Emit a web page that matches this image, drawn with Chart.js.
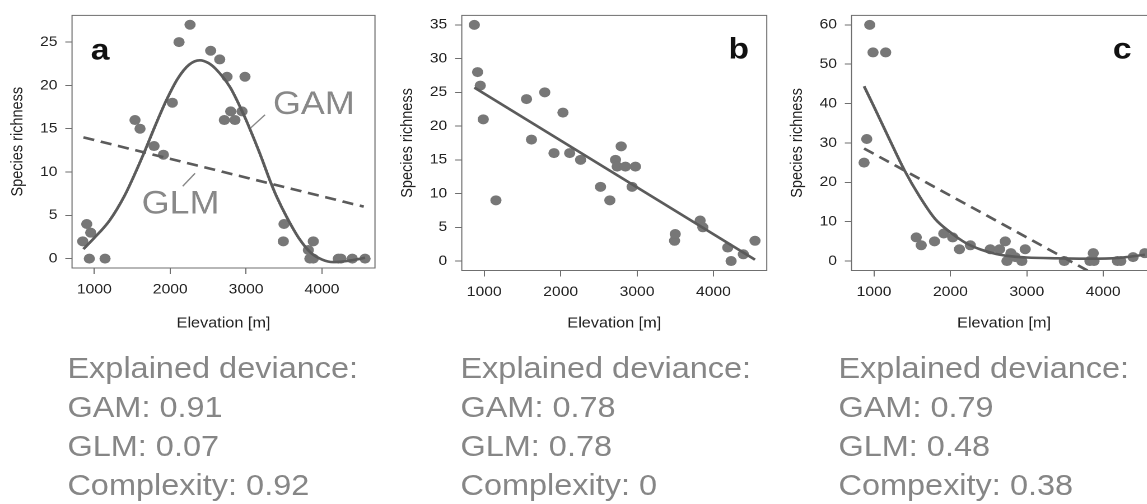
<!DOCTYPE html>
<html>
<head>
<meta charset="utf-8">
<script src="https://cdn.jsdelivr.net/npm/chart.js@4.4.1/dist/chart.umd.min.js"></script>
<style>
html,body{margin:0;padding:0;background:#fff;overflow:hidden;width:1147px;height:504px;}
#stage{position:absolute;left:0;top:0;width:1024px;height:504px;transform:scaleX(1.12);transform-origin:0 0;}
canvas.panel{position:absolute;top:0;}
.stats{position:absolute;top:348.5px;font-family:"Liberation Sans",Arial,Helvetica,sans-serif;font-size:29px;line-height:39px;color:#868686;white-space:nowrap;}
</style>
</head>
<body>
<div id="stage">
  <canvas id="ca" class="panel" width="345" height="340" style="left:0px"></canvas>
  <canvas id="cb" class="panel" width="347" height="340" style="left:348.2px"></canvas>
  <canvas id="cc" class="panel" width="347" height="340" style="left:696.4px"></canvas>
  <div class="stats" id="sa" style="left:60.2px"></div>
  <div class="stats" id="sb" style="left:411.1px"></div>
  <div class="stats" id="sc" style="left:748.6px"></div>
</div>
<script>
// ---------- data ----------
const xTicks = [1000, 2000, 3000, 4000];
const yTicksA = [0, 5, 10, 15, 20, 25];
const yTicksB = [0, 5, 10, 15, 20, 25, 30, 35];
const yTicksC = [0, 10, 20, 30, 40, 50, 60];

// panel a
const elevA = [847, 900, 952, 934, 1141, 1536, 1602, 1787, 1910, 2028, 2116, 2261, 2533, 2652, 2748, 2713, 2797, 2853, 2946, 2985, 3499, 3490, 3885, 3820, 3840, 3885, 4215, 4250, 4399, 4567];
const richA = [2, 4, 3, 0, 0, 16, 15, 13, 12, 18, 25, 27, 24, 23, 21, 16, 17, 16, 17, 21, 4, 2, 2, 1, 0, 0, 0, 0, 0, 0];
const gamElevA = [856, 1000, 1200, 1400, 1550, 1664, 1800, 1950, 2100, 2250, 2391, 2500, 2600, 2788, 2900, 3000, 3100, 3200, 3315, 3400, 3535, 3700, 3850, 4000, 4150, 4300, 4450, 4567];
const gamA = [1.1, 2.4, 4.4, 7.3, 10.1, 12.4, 15.3, 18.3, 20.8, 22.4, 22.9, 22.6, 21.9, 19.8, 17.9, 16.0, 13.9, 11.7, 9.0, 7.2, 4.8, 2.3, 0.7, -0.1, -0.4, -0.3, -0.1, 0.1];
const glmElevA = [856, 4550];
const glmA = [14.0, 6.0];

// panel b
const elevB = [870, 913, 948, 987, 1153, 1553, 1618, 1792, 1913, 2030, 2118, 2261, 2522, 2644, 2718, 2740, 2792, 2848, 2979, 2935, 3491, 3500, 3826, 3861, 4187, 4231, 4391, 4544];
const richB = [35, 28, 26, 21, 9, 24, 18, 25, 16, 22, 16, 15, 11, 9, 15, 14, 17, 14, 14, 11, 3, 4, 6, 5, 2, 0, 1, 3];
const fitElevB = [870, 4544];
const fitB = [25.7, 0.2];

// panel c
const elevC = [944, 987, 1153, 905, 870, 1553, 1618, 1792, 1913, 2030, 2118, 2261, 2522, 2644, 2718, 2740, 2792, 2848, 2935, 2979, 3491, 3826, 3870, 3880, 4187, 4231, 4391, 4544];
const richC = [60, 53, 53, 31, 25, 6, 4, 5, 7, 6, 3, 4, 3, 3, 5, 0, 2, 1, 0, 3, 0, 0, 2, 0, 0, 0, 1, 2];
const gamElevC = [870, 1000, 1200, 1400, 1600, 1800, 2000, 2200, 2400, 2600, 2800, 3000, 3400, 3800, 4200, 4544];
const gamC = [44.4, 39.2, 31.0, 23.0, 16.3, 10.7, 7.3, 4.6, 2.9, 1.8, 1.2, 0.9, 0.7, 0.6, 0.8, 1.6];
const glmElevC = [870, 4000];
const glmC = [28.6, -4.6];

// text
const statsA = ["Explained deviance:", "GAM: 0.91", "GLM: 0.07", "Complexity: 0.92"];
const statsB = ["Explained deviance:", "GAM: 0.78", "GLM: 0.78", "Complexity: 0"];
const statsC = ["Explained deviance:", "GAM: 0.79", "GLM: 0.48", "Compexity: 0.38"];
const xTitle = "Elevation [m]";
const yTitle = "Species richness";

// ---------- drawing ----------
const FONT = '"Liberation Sans", Arial, Helvetica, sans-serif';
const X_MIN = 706, X_MAX = 4698;
const pts = (xs, ys) => xs.map((x, i) => ({x: x, y: ys[i]}));

const boxPlugin = {
  id: 'rbox',
  afterDraw(chart) {
    const {ctx, chartArea: a} = chart;
    ctx.save();
    ctx.strokeStyle = '#6f6f6f';
    ctx.lineWidth = 1;
    ctx.strokeRect(a.left, a.top, a.right - a.left, a.bottom - a.top);
    ctx.restore();
  }
};

const notesPlugin = {
  id: 'notes',
  afterDatasetsDraw(chart, args, opts) {
    const {ctx, scales: {x, y}} = chart;
    ctx.save();
    (opts.items || []).forEach(n => {
      if (n.type === 'line') {
        ctx.strokeStyle = n.color; ctx.lineWidth = n.width || 1.3;
        ctx.beginPath();
        ctx.moveTo(x.getPixelForValue(n.x1), y.getPixelForValue(n.y1));
        ctx.lineTo(x.getPixelForValue(n.x2), y.getPixelForValue(n.y2));
        ctx.stroke();
      } else {
        ctx.fillStyle = n.color;
        ctx.font = n.font;
        ctx.textAlign = 'left';
        ctx.textBaseline = 'alphabetic';
        ctx.fillText(n.text, x.getPixelForValue(n.x), y.getPixelForValue(n.y));
      }
    });
    ctx.restore();
  }
};

function makePanel(id, cfg) {
  const datasets = [];
  cfg.lines.forEach(l => datasets.push({
    data: pts(l.x, l.y), showLine: true, borderColor: '#5b5b5b', borderWidth: 2.6,
    borderDash: l.dash ? [10, 6] : [], pointRadius: 0, pointHoverRadius: 0,
    cubicInterpolationMode: l.smooth ? 'monotone' : 'default', fill: false, order: 0
  }));
  datasets.push({
    data: pts(cfg.px, cfg.py), showLine: false, pointRadius: 5, pointHoverRadius: 5,
    pointBackgroundColor: '#777777', pointBorderWidth: 0, order: 5
  });
  return new Chart(document.getElementById(id), {
    type: 'scatter',
    data: {datasets: datasets},
    plugins: [boxPlugin, notesPlugin],
    options: {
      responsive: false, animation: false, devicePixelRatio: 2,
      layout: {autoPadding: false, padding: {left: 0, right: cfg.padRight, top: cfg.top, bottom: 0}},
      plugins: {legend: {display: false}, tooltip: {enabled: false}, notes: {items: cfg.notes}},
      scales: {
        x: {
          type: 'linear', min: X_MIN, max: X_MAX,
          afterBuildTicks: s => { s.ticks = xTicks.map(v => ({value: v})); },
          afterFit: s => { s.height = 340 - cfg.bottom; },
          grid: {display: true, drawOnChartArea: false, drawTicks: true, tickLength: 6, color: '#6f6f6f', lineWidth: 1},
          border: {display: false},
          ticks: {font: {family: FONT, size: 14}, color: '#222', padding: 7, maxRotation: 0, autoSkip: false, callback: v => String(v)},
          title: {display: true, text: xTitle, font: {family: FONT, size: 14.5}, color: '#222', padding: {top: 0, bottom: 8}}
        },
        y: {
          type: 'linear', min: cfg.yMin, max: cfg.yMax,
          afterBuildTicks: s => { s.ticks = cfg.yTicks.map(v => ({value: v})); },
          afterFit: s => { s.width = 64.3; },
          grid: {display: true, drawOnChartArea: false, drawTicks: true, tickLength: 6, color: '#6f6f6f', lineWidth: 1},
          border: {display: false},
          ticks: {font: {family: FONT, size: 14}, color: '#222', padding: 7, autoSkip: false, callback: v => String(v)},
          title: {display: true, text: yTitle, font: {family: FONT, size: 14.5}, color: '#222', padding: {top: 7.3, bottom: 0}}
        }
      }
    }
  });
}

const LBL = '#888888';
makePanel('ca', {
  padRight: 345 - 64.3 - 270.5, top: 10, bottom: 268, yMin: -1.08, yMax: 28.08, yTicks: yTicksA,
  px: elevA, py: richA,
  lines: [{x: gamElevA, y: gamA, smooth: true}, {x: glmElevA, y: glmA, dash: true}],
  notes: [
    {type: 'text', text: 'a', x: 953, y: 23.0, font: 'bold 30px ' + FONT, color: '#111'},
    {type: 'text', text: 'GAM', x: 3354, y: 16.7, font: '32px ' + FONT, color: LBL},
    {type: 'text', text: 'GLM', x: 1624, y: 5.24, font: '32px ' + FONT, color: LBL},
    {type: 'line', x1: 3061, y1: 15.1, x2: 3249, y2: 16.6, color: LBL},
    {type: 'line', x1: 2165, y1: 8.36, x2: 2327, y2: 9.85, color: LBL}
  ]
});
makePanel('cb', {
  padRight: 347 - 64.3 - 272.3, top: 11, bottom: 270.5, yMin: -1.4, yMax: 36.4, yTicks: yTicksB,
  px: elevB, py: richB,
  lines: [{x: fitElevB, y: fitB}],
  notes: [{type: 'text', text: 'b', x: 4196, y: 30.0, font: 'bold 30px ' + FONT, color: '#111'}]
});
makePanel('cc', {
  padRight: 347 - 64.3 - 272.3, top: 11, bottom: 270.5, yMin: -2.4, yMax: 62.4, yTicks: yTicksC,
  px: elevC, py: richC,
  lines: [{x: gamElevC, y: gamC, smooth: true}, {x: glmElevC, y: glmC, dash: true}],
  notes: [{type: 'text', text: 'c', x: 4127, y: 51.5, font: 'bold 30px ' + FONT, color: '#111'}]
});

function fillStats(id, lines) {
  const el = document.getElementById(id);
  lines.forEach(t => { const d = document.createElement('div'); d.textContent = t; el.appendChild(d); });
}
fillStats('sa', statsA);
fillStats('sb', statsB);
fillStats('sc', statsC);
</script>
</body>
</html>
